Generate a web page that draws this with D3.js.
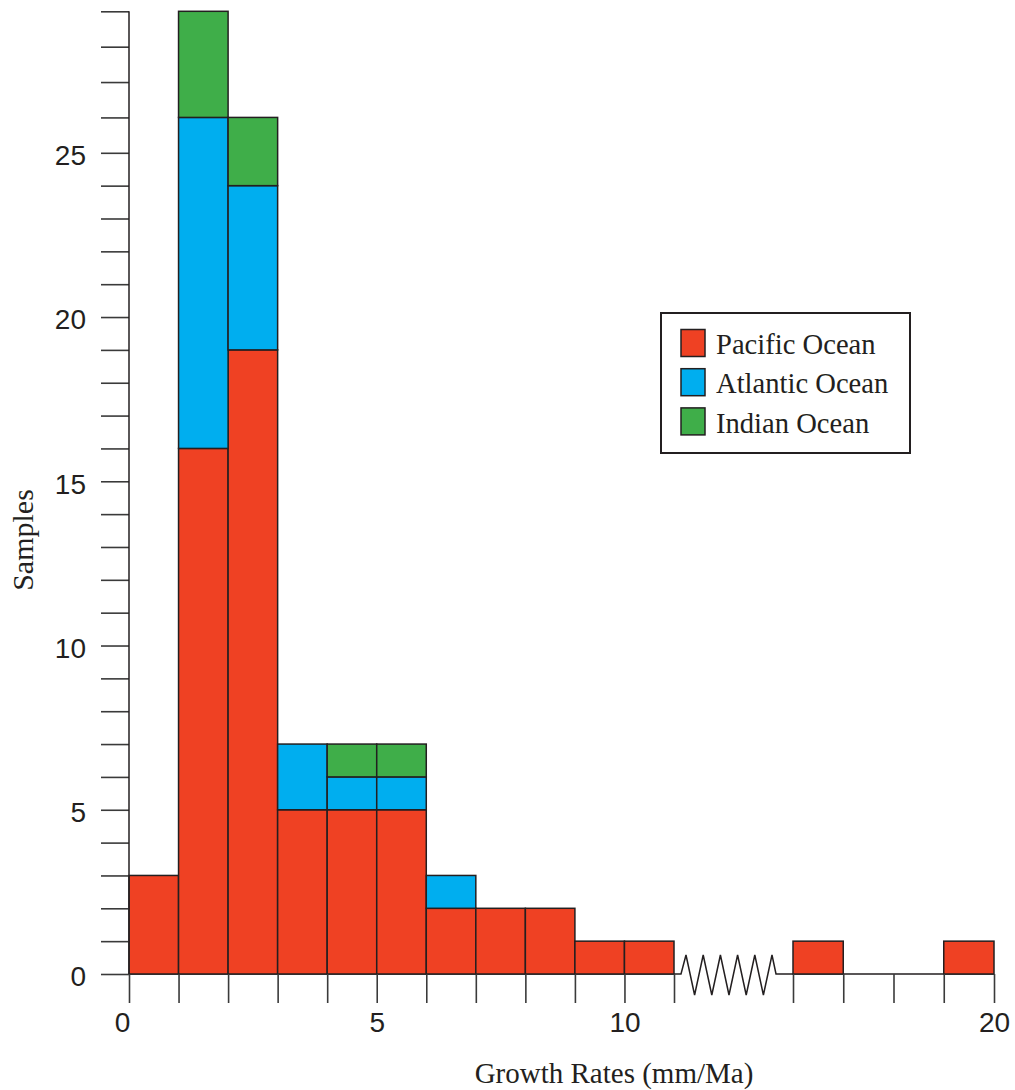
<!DOCTYPE html>
<html><head><meta charset="utf-8">
<script src="https://cdn.jsdelivr.net/npm/d3@7"></script>
<style>body{margin:0;background:#fff}</style>
</head><body>
<svg id="chart" width="1015" height="1090"></svg>
<script>
// ---- data ----
const binStarts = [0,1,2,3,4,5,6,7,8,9,10,16,19];
const pacific   = [3,16,19,5,5,5,2,2,2,1,1,1,1];
const atlantic  = [0,10,5,2,1,1,1,0,0,0,0,0,0];
const indian    = [0,3,2,0,1,1,0,0,0,0,0,0,0];
const seriesNames = ["Pacific Ocean","Atlantic Ocean","Indian Ocean"];
const seriesColors = ["#EF4123","#00AEEF","#3FAE49"];
const xTickValues = [0,1,2,3,4,5,6,7,8,9,10,11,16,17,18,19,20];
const xTickLabels = [0,5,10,20];
const yTickValues = d3.range(0,30);
const yTickLabels = [0,5,10,15,20,25];

const svg = d3.select("#chart");
const x = d3.scaleLinear().domain([0,11,16,20]).range([129,674,793,994]);
const y = d3.scaleLinear().domain([0,25,29]).range([974,152.8,11.3]);

const keys = ["pacific","atlantic","indian"];
const table = binStarts.map((b,i)=>({start:b, pacific:pacific[i], atlantic:atlantic[i], indian:indian[i]}));
const stacked = d3.stack().keys(keys)(table);

// baseline with break
const base = y(0);
const zx0 = x(11)+7, zx1 = x(16)-17;
const zz = [[x(0),base],[zx0,base]];
const step = (zx1-zx0-9)/10;
zz.push([zx0+5, base-19]);
for(let k=1;k<=10;k++){ zz.push([zx0+5+k*step, (k%2===1)? base+21 : base-19]); }
zz.push([zx1, base]);
zz.push([x(20), base]);
svg.append("path").attr("d", d3.line()(zz)).attr("fill","none").attr("stroke","#231F20").attr("stroke-width",1.5);

// bars
stacked.forEach((layer,li)=>{
  svg.append("g").selectAll("rect").data(layer.filter(d=>d[1]>d[0])).join("rect")
    .attr("x", d=>x(d.data.start))
    .attr("width", d=>x(d.data.start+1)-x(d.data.start))
    .attr("y", d=>y(d[1]))
    .attr("height", d=>y(d[0])-y(d[1]))
    .attr("fill", seriesColors[li])
    .attr("stroke","#231F20").attr("stroke-width",1.5);
});

// x axis
const xAxis = d3.axisBottom(x).tickValues(xTickValues).tickSize(29).tickPadding(9)
  .tickFormat(d=> xTickLabels.includes(d) ? d : "");
const gx = svg.append("g").attr("transform",`translate(0,${base})`).call(xAxis);
gx.select(".domain").remove();
gx.selectAll(".tick line").attr("stroke","#3a3a3a").attr("stroke-width",1.6);
gx.selectAll(".tick text").attr("font-family","'Liberation Sans', Arial, sans-serif").attr("font-size",28).attr("fill","#231F20")
  .attr("dx", d=> d===0 ? -7 : 0);

// y axis
const yAxis = d3.axisLeft(y).tickValues(yTickValues).tickSize(28).tickPadding(15)
  .tickFormat(d=> yTickLabels.includes(d) ? d : "");
const gy = svg.append("g").attr("transform",`translate(${x(0)},0)`).call(yAxis);
gy.select(".domain").remove();
gy.selectAll(".tick line").attr("stroke","#3a3a3a").attr("stroke-width",1.6);
gy.selectAll(".tick text").attr("font-family","'Liberation Sans', Arial, sans-serif").attr("font-size",28).attr("fill","#231F20").attr("dy","0.42em");
svg.append("line").attr("x1",x(0)).attr("x2",x(0)).attr("y1",base).attr("y2",y(29))
  .attr("stroke","#231F20").attr("stroke-width",1.5);

// axis titles
svg.append("text").attr("x",614).attr("y",1083).attr("text-anchor","middle")
  .attr("font-family","'Liberation Serif', 'Times New Roman', serif").attr("font-size",29).attr("fill","#231F20")
  .text("Growth Rates (mm/Ma)");
svg.append("text").attr("transform","translate(33,540) rotate(-90)").attr("text-anchor","middle")
  .attr("font-family","'Liberation Serif', 'Times New Roman', serif").attr("font-size",30).attr("fill","#231F20")
  .text("Samples");

// legend
const lg = svg.append("g");
lg.append("rect").attr("x",661).attr("y",313).attr("width",249).attr("height",140)
  .attr("fill","#fff").attr("stroke","#231F20").attr("stroke-width",2);
seriesNames.forEach((n,i)=>{
  lg.append("rect").attr("x",681).attr("y",329.5+i*39.2).attr("width",24).attr("height",27)
    .attr("fill",seriesColors[i]).attr("stroke","#231F20").attr("stroke-width",1.5);
  lg.append("text").attr("x",716).attr("y",354+i*39.3)
    .attr("font-family","'Liberation Serif', 'Times New Roman', serif").attr("font-size",28.6).attr("fill","#231F20")
    .text(n);
});
</script>
</body></html>
